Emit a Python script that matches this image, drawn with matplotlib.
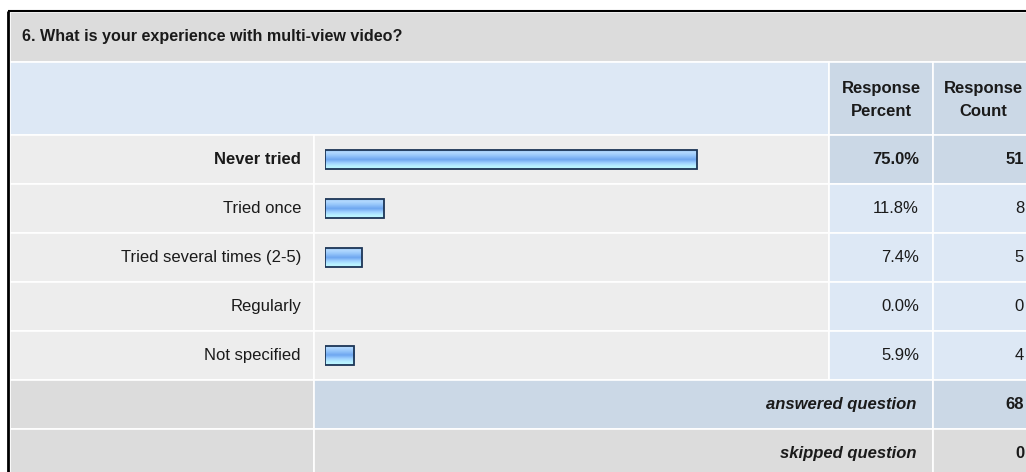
import matplotlib.pyplot as plt
import numpy as np
from matplotlib.patches import Rectangle

plt.rcParams['font.family'] = ['Liberation Sans', 'DejaVu Sans']

question = "6. What is your experience with multi-view video?"
answers = ["Never tried", "Tried once", "Tried several times (2-5)", "Regularly", "Not specified"]
percents = [75.0, 11.8, 7.4, 0.0, 5.9]
counts = [51, 8, 5, 0, 4]
answered = 68
skipped = 0

W, H = 1026, 472
fig = plt.figure(figsize=(W / 100, H / 100), dpi=100)
fig.patch.set_facecolor("white")

# table background in pixel coordinates (y grows downward)
tab = fig.add_axes([0, 0, 1, 1])
tab.set_xlim(0, W)
tab.set_ylim(H, 0)
tab.axis("off")

GREY = "#dcdcdc"
ROW = "#ededed"
BLUE_LT = "#dde8f5"
BLUE_DK = "#cbd8e6"
TXT = "#1a1a1a"
FS = 12

x0, x_bar, x_pct, x_cnt, x1 = 10, 314, 829, 933, 1040
y_title, y_head, y_rows = 12, 62, 135
row_h = 49


def cell(x, y, w, h, color):
    tab.add_patch(Rectangle((x, y), w, h, facecolor=color, edgecolor="white", lw=1.2))


# title row
cell(x0, y_title, x1 - x0, y_head - y_title, GREY)
tab.text(22, 37, question, fontsize=11.6, fontweight="bold", color=TXT, va="center")

# header row
cell(x0, y_head, x_pct - x0, y_rows - y_head, BLUE_LT)
cell(x_pct, y_head, x_cnt - x_pct, y_rows - y_head, BLUE_DK)
cell(x_cnt, y_head, x1 - x_cnt, y_rows - y_head, BLUE_DK)
tab.text((x_pct + x_cnt) / 2, 100, "Response\nPercent", fontsize=FS, fontweight="bold",
         color=TXT, ha="center", va="center", linespacing=1.6)
tab.text(983, 100, "Response\nCount", fontsize=FS, fontweight="bold",
         color=TXT, ha="center", va="center", linespacing=1.6)

top = int(np.argmax(counts))
for i, (lab, p, c) in enumerate(zip(answers, percents, counts)):
    y = y_rows + i * row_h
    yc = y + row_h / 2
    hi = i == top
    cell(x0, y, x_bar - x0, row_h, ROW)
    cell(x_bar, y, x_pct - x_bar, row_h, ROW)
    cell(x_pct, y, x_cnt - x_pct, row_h, BLUE_DK if hi else BLUE_LT)
    cell(x_cnt, y, x1 - x_cnt, row_h, BLUE_DK if hi else BLUE_LT)
    fw = "bold" if hi else "normal"
    tab.text(301, yc, lab, fontsize=FS, fontweight=fw, color=TXT, ha="right", va="center")
    tab.text(919, yc, f"{p:.1f}%", fontsize=FS, fontweight=fw, color=TXT, ha="right", va="center")
    tab.text(1024, yc, str(c), fontsize=FS, fontweight=fw, color=TXT, ha="right", va="center")

# summary rows
y = y_rows + len(answers) * row_h
cell(x0, y, x_bar - x0, row_h, GREY)
cell(x_bar, y, x_cnt - x_bar, row_h, BLUE_DK)
cell(x_cnt, y, x1 - x_cnt, row_h, BLUE_DK)
tab.text(916, y + row_h / 2, "answered question", fontsize=FS, fontweight="bold",
         style="italic", color=TXT, ha="right", va="center")
tab.text(1024, y + row_h / 2, str(answered), fontsize=FS, fontweight="bold",
         color=TXT, ha="right", va="center")
y += row_h
cell(x0, y, x_bar - x0, row_h, GREY)
cell(x_bar, y, x_cnt - x_bar, row_h, GREY)
cell(x_cnt, y, x1 - x_cnt, row_h, GREY)
tab.text(916, y + row_h / 2, "skipped question", fontsize=FS, fontweight="bold",
         style="italic", color=TXT, ha="right", va="center")
tab.text(1024, y + row_h / 2, str(skipped), fontsize=FS, fontweight="bold",
         color=TXT, ha="right", va="center")

# outer frame
tab.plot([8, 8], [H, 11], color="black", lw=2, solid_capstyle="butt")
tab.plot([8, W], [11, 11], color="black", lw=1.5, solid_capstyle="butt")

# bar column: 0-100 % scale
bx = fig.add_axes([325 / W, (H - (y_rows + 5 * row_h)) / H, 496 / W, 5 * row_h / H])
bx.set_xlim(0, 100)
bx.set_ylim(len(answers) - 0.5, -0.5)
bx.axis("off")
bx.patch.set_alpha(0)

# vertical shading of the bars: pale top, darker band, cyan bottom
grad = np.array([0.0, 0.12, 0.3, 0.5, 0.68, 0.85, 1.0])
cols = np.array([[0.62, 0.78, 0.95], [0.70, 0.85, 1.0], [0.58, 0.77, 0.98],
                 [0.43, 0.65, 0.94], [0.62, 0.82, 1.0], [0.72, 0.94, 1.0],
                 [0.74, 0.97, 1.0]])
ys = np.linspace(0, 1, 40)
img = np.stack([np.interp(ys, grad, cols[:, k]) for k in range(3)], axis=1)[:, None, :]

bars = bx.barh(range(len(answers)), percents, height=19 / row_h,
               color="none", edgecolor="#1c3556", lw=1.3, zorder=3)
for b, p in zip(bars, percents):
    if p <= 0:
        b.set_visible(False)
        continue
    bb = b.get_bbox()
    im = bx.imshow(img, extent=[bb.x0, bb.x1, bb.y1, bb.y0], aspect="auto",
                   origin="upper", zorder=2)
    im.set_clip_path(b)
bx.set_xlim(0, 100)
bx.set_ylim(len(answers) - 0.5, -0.5)

fig.savefig("out.png", dpi=100)
